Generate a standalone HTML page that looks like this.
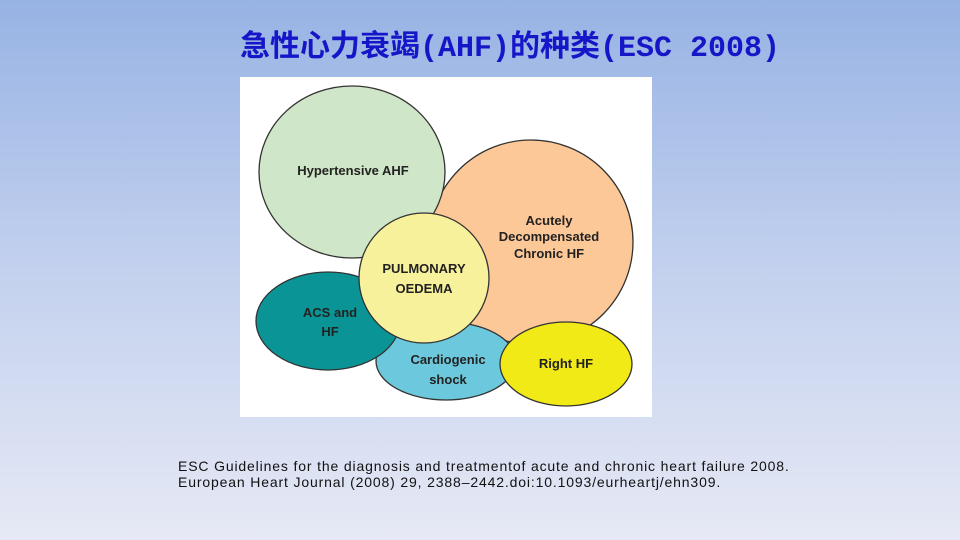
<!DOCTYPE html>
<html><head><meta charset="utf-8"><style>
body{margin:0}
.s{width:960px;height:540px;position:relative;overflow:hidden;background:linear-gradient(#97b3e4,#c3d1ee 50%,#e6e9f5);font-family:"Liberation Sans","Noto Sans CJK SC",sans-serif}
.t{position:absolute;left:0;width:1020px;top:21px;text-align:center;font-size:30px;color:#1616c8;font-weight:bold;font-family:"Liberation Mono","Noto Sans CJK SC",monospace}
.c{position:absolute;left:178px;top:458px;font-size:14px;letter-spacing:0.85px;line-height:16px;color:#111;white-space:nowrap}
</style></head><body><div class="s">
<div class="t">急性心力衰竭(AHF)的种类(ESC 2008)</div>
<svg style="position:absolute;left:0;top:0" width="960" height="540" font-family="Liberation Sans, sans-serif" font-weight="bold" font-size="13" text-anchor="middle" fill="#222">
<rect x="240" y="77" width="412" height="340" fill="#fff"/>
<g stroke="#333" stroke-width="1.3">
<circle cx="531" cy="242" r="102" fill="#fdc898"/>
<ellipse cx="352" cy="172" rx="93" ry="86" fill="#d0e6c8"/>
<ellipse cx="446" cy="361" rx="70" ry="39" fill="#6cc8dc"/>
<ellipse cx="328" cy="321" rx="72" ry="49" fill="#0b9496"/>
<ellipse cx="566" cy="364" rx="66" ry="42" fill="#f2ea16"/>
<circle cx="424" cy="278" r="65" fill="#f8f19c"/>
</g>
<g stroke="none" fill="#222">
<text x="353" y="175">Hypertensive AHF</text>
<text x="549" y="225">Acutely</text>
<text x="549" y="241">Decompensated</text>
<text x="549" y="258">Chronic HF</text>
<text x="424" y="273">PULMONARY</text>
<text x="424" y="293">OEDEMA</text>
<text x="330" y="317">ACS and</text>
<text x="330" y="336">HF</text>
<text x="448" y="364">Cardiogenic</text>
<text x="448" y="384">shock</text>
<text x="566" y="368">Right HF</text>
</g>
</svg>
<div class="c">ESC Guidelines for the diagnosis and treatmentof acute and chronic heart failure 2008.<br>European Heart Journal (2008) 29, 2388–2442.doi:10.1093/eurheartj/ehn309.</div>
</div></body></html>
